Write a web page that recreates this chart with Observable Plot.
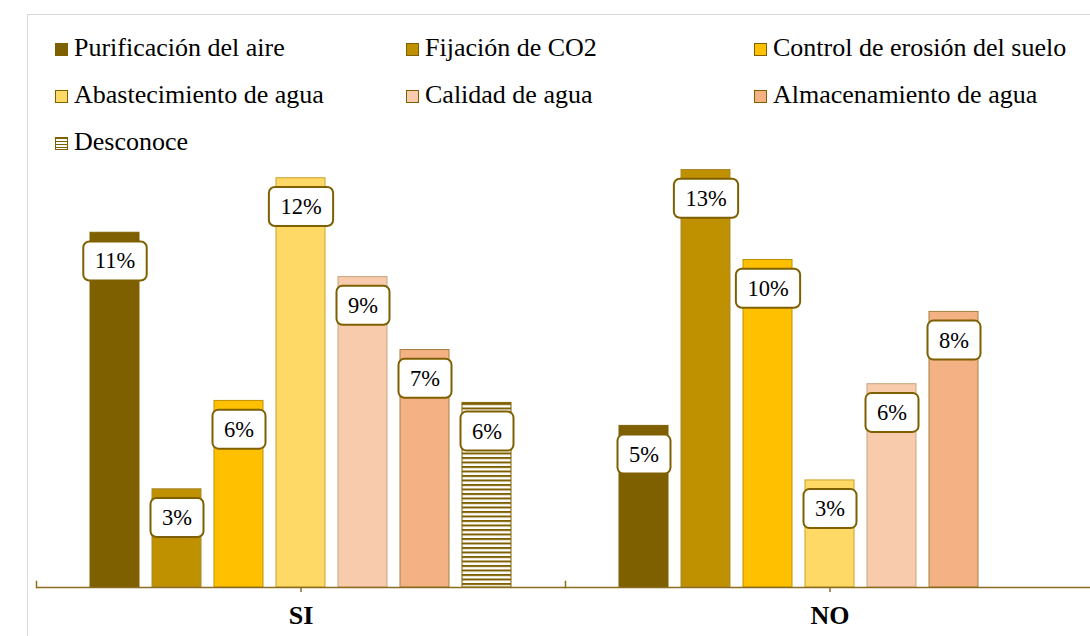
<!DOCTYPE html>
<html>
<head>
<meta charset="utf-8">
<script src="https://cdn.jsdelivr.net/npm/d3@7"></script>
<script src="https://cdn.jsdelivr.net/npm/@observablehq/plot@0.6"></script>
<style>
  html, body { margin: 0; padding: 0; background: #fff; overflow: hidden; }
  body { width: 1090px; height: 636px; position: relative; font-family: "Liberation Serif", Tinos, "Times New Roman", Times, "DejaVu Serif", serif; }
  #frame { position: absolute; left: 27px; top: 14px; width: 1100px; height: 700px; border: 1.5px solid #d9d9d9; box-sizing: border-box; }
  #legend { position: relative; height: 160px; }
  .item { position: absolute; font-size: 26px; line-height: 30px; color: #000; white-space: nowrap; font-family: "Liberation Serif", Tinos, "Times New Roman", Times, "DejaVu Serif", serif; }
  .sw { position: absolute; width: 13px; height: 13px; box-sizing: border-box; border: 1px solid #7f6000; }
  #chart { position: relative; width: 1094px; }
  #chart svg { max-width: none !important; }
</style>
</head>
<body>
<div id="frame"></div>
<div id="legend"></div>
<div id="chart"></div>
<script>
// ---- data ----
const groups = ["SI", "NO"];
const series = [
  "Purificación del aire",
  "Fijación de CO2",
  "Control de erosión del suelo",
  "Abastecimiento de agua",
  "Calidad de agua",
  "Almacenamiento de agua",
  "Desconoce"
];
const valuesSI = [10.8, 2.99, 5.68, 12.46, 9.45, 7.23, 5.62];
const valuesNO = [4.92, 12.71, 9.97, 3.26, 6.19, 8.39, null];
const fills = ["#7f6000", "#bf9000", "#ffc000", "#ffd966", "#f8cbad", "#f4b183", "url(#stripes)"];
const strokes = ["#7f6000", "#a98a2e", "#bf9000", "#c9a227", "#c8a67c", "#a58040", "#7f6000"];
const axisColor = "#8c6d1f";
const serif = '"Liberation Serif", Tinos, "Times New Roman", Times, "DejaVu Serif", serif';

const data = groups.flatMap((g, gi) =>
  series.map((s, si) => ({ group: g, series: s, value: (gi === 0 ? valuesSI : valuesNO)[si] }))
).filter(d => d.value != null);
const strokeOf = Object.fromEntries(series.map((s, i) => [s, strokes[i]]));

// ---- legend (HTML) ----
const legendCols = [55, 406, 754];
const legendBaselines = [57, 104, 151];
const legend = document.getElementById("legend");
series.forEach((s, i) => {
  const col = i % 3, row = Math.floor(i / 3);
  const x = legendCols[col], base = legendBaselines[row];
  const sw = document.createElement("div");
  sw.className = "sw";
  sw.style.left = x + "px";
  sw.style.top = (base - 14) + "px";
  if (fills[i].startsWith("url")) {
    sw.style.background = "repeating-linear-gradient(to bottom, #7f6000 0px, #7f6000 1.5px, #fff 1.5px, #fff 3px)";
  } else {
    sw.style.background = fills[i];
  }
  legend.appendChild(sw);
  const t = document.createElement("div");
  t.className = "item";
  t.textContent = s;
  t.style.left = (x + 19) + "px";
  t.style.top = (base - 24) + "px";
  legend.appendChild(t);
});

// ---- chart ----
const H = 476, MB = 49;
const chart = Plot.plot({
  width: 1094,
  height: H,
  marginLeft: 36,
  marginRight: 0,
  marginTop: 0,
  marginBottom: MB,
  style: { fontFamily: serif, background: "transparent", overflow: "visible", maxWidth: "none" },
  fx: { domain: groups, padding: 0, axis: null },
  x: { domain: series, paddingInner: 0.21, paddingOuter: 0.871, axis: null },
  y: { domain: [0, 13], axis: null },
  color: { domain: series, range: fills },
  marks: [
    Plot.barY(data, { fx: "group", x: "series", y: "value", fill: "series", stroke: d => strokeOf[d.series], strokeWidth: 1 }),
    Plot.ruleY([0], { stroke: axisColor, strokeWidth: 1.5 }),
    Plot.frame({ anchor: "left", stroke: axisColor, strokeWidth: 1.5, insetTop: H - MB - 6 }),
    Plot.axisFx({ anchor: "bottom", tickSize: 5, tickPadding: 13, fontSize: 26, fontWeight: "bold", fontFamily: serif, label: null, stroke: axisColor, fill: "black", strokeWidth: 1.5 }),
    Plot.text(data, { fx: "group", x: "series", y: "value", text: d => Math.round(d.value) + "%", dy: 28.5, fontSize: 22.5, fontFamily: serif, fill: "black" })
  ]
});
chart.style.fontFamily = serif;
chart.style.maxWidth = "none";
document.getElementById("chart").appendChild(chart);

// stripe pattern for "Desconoce"
const NS = "http://www.w3.org/2000/svg";
const defs = document.createElementNS(NS, "defs");
const pat = document.createElementNS(NS, "pattern");
pat.setAttribute("id", "stripes");
pat.setAttribute("patternUnits", "userSpaceOnUse");
pat.setAttribute("width", "8");
pat.setAttribute("height", "4.5");
const pb = document.createElementNS(NS, "rect");
pb.setAttribute("width", "8"); pb.setAttribute("height", "4.5"); pb.setAttribute("fill", "#ffffff");
const pl = document.createElementNS(NS, "rect");
pl.setAttribute("width", "8"); pl.setAttribute("height", "2"); pl.setAttribute("fill", "#7f6000");
pat.appendChild(pb); pat.appendChild(pl); defs.appendChild(pat);
chart.insertBefore(defs, chart.firstChild);

// rounded boxes behind the data labels (the texts ending in "%")
Array.from(chart.querySelectorAll("text"))
  .filter(t => /%$/.test(t.textContent.trim()))
  .forEach(t => {
    const bb = t.getBBox();
    const cy = bb.y + bb.height / 2;
    const r = document.createElementNS(NS, "rect");
    r.setAttribute("x", bb.x - 11.5);
    r.setAttribute("y", cy - 19.5);
    r.setAttribute("width", bb.width + 23);
    r.setAttribute("height", 39);
    r.setAttribute("rx", 6);
    r.setAttribute("fill", "#ffffff");
    r.setAttribute("stroke", "#7f6000");
    r.setAttribute("stroke-width", 2);
    if (t.getAttribute("transform")) r.setAttribute("transform", t.getAttribute("transform"));
    t.parentNode.insertBefore(r, t);
  });
</script>
</body>
</html>
